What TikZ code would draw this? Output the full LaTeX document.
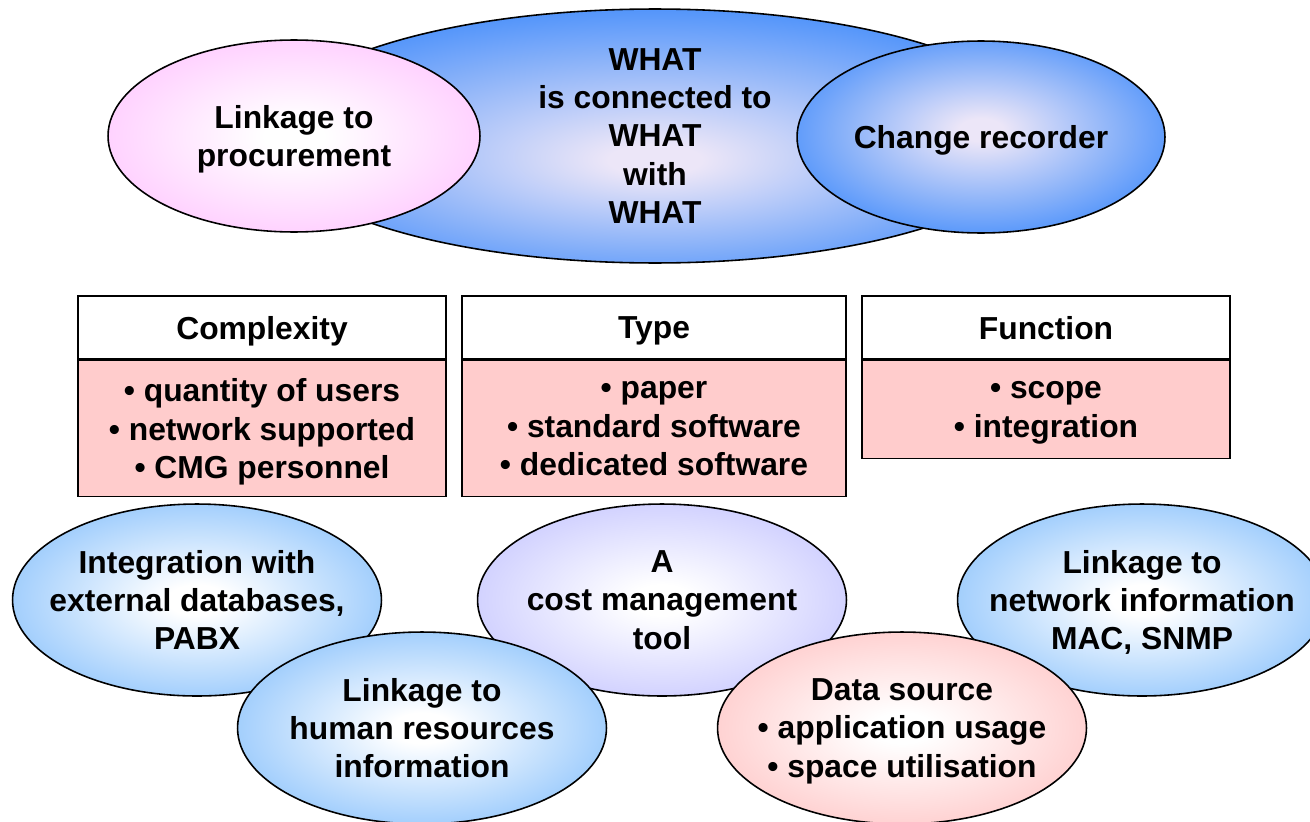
\documentclass[tikz,border=0pt]{standalone}
\usepackage{fontspec}
\setmainfont{Liberation Sans}
\usetikzlibrary{shapes.geometric}
\definecolor{deepblue}{RGB}{85,150,250}
\definecolor{paleblue}{RGB}{150,200,252}
\definecolor{lilac}{RGB}{204,204,255}
\definecolor{orchid}{RGB}{255,204,255}
\definecolor{rosy}{RGB}{255,204,204}
\definecolor{core}{RGB}{236,230,248}
\pgfdeclareradialshading{bigshade}{\pgfpoint{0bp}{-5bp}}{color(0bp)=(core); color(3bp)=(core); color(27bp)=(deepblue); color(50bp)=(deepblue)}
\pgfdeclareradialshading{blueshade}{\pgfpoint{0bp}{2bp}}{color(0bp)=(core); color(3bp)=(core); color(27bp)=(deepblue); color(50bp)=(deepblue)}
\pgfdeclareradialshading{paleshade}{\pgfpoint{0bp}{0bp}}{color(0bp)=(white); color(4bp)=(white); color(28bp)=(paleblue); color(50bp)=(paleblue)}
\pgfdeclareradialshading{lilacshade}{\pgfpoint{0bp}{0bp}}{color(0bp)=(white); color(4bp)=(white); color(28bp)=(lilac); color(50bp)=(lilac)}
\pgfdeclareradialshading{orchidshade}{\pgfpoint{0bp}{0bp}}{color(0bp)=(white); color(4bp)=(white); color(28bp)=(orchid); color(50bp)=(orchid)}
\pgfdeclareradialshading{rosyshade}{\pgfpoint{0bp}{0bp}}{color(0bp)=(white); color(4bp)=(white); color(28bp)=(rosy); color(50bp)=(rosy)}

\begin{document}
\begin{tikzpicture}[x=0.02cm, y=-0.02cm,
  txt/.style={font=\fontsize{18.1}{21.8}\selectfont\bfseries, align=center, text=black, text depth=0pt},
  oval/.style={txt, ellipse, draw=black, line width=0.9pt, inner xsep=-3cm, inner ysep=-1cm,
    minimum width=7.38cm, minimum height=3.84cm},
  head/.style={txt, rectangle, draw=black, line width=0.9pt, fill=white,
    minimum height=1.26cm, inner sep=0pt},
  body/.style={txt, rectangle, draw=black, line width=0.9pt, fill=rosy, inner sep=0pt}]
  \useasboundingbox (0,0) rectangle (1310,821);
  % top group
  \node[oval, shading=bigshade, minimum width=15.6cm, minimum height=5.08cm] (what) at (655,136)
    {WHAT\\is connected to\\WHAT\\with\\WHAT};
  \node[oval, shading=orchidshade, minimum width=7.44cm] (proc) at (294,136) {Linkage to\\procurement};
  \node[oval, shading=blueshade, minimum width=7.36cm] (change) at (981,137) {Change recorder};
  % three boxes
  \node[head, minimum width=7.36cm] (cplxH) at (262,327.5) {Complexity};
  \node[body, minimum width=7.36cm, minimum height=2.72cm, anchor=north] (cplxB) at (cplxH.south)
    {• quantity of users\\• network supported\\• CMG personnel};
  \node[head, minimum width=7.68cm] (typeH) at (654,327.5) {Type};
  \node[body, minimum width=7.68cm, minimum height=2.72cm, anchor=north, text depth=-3.4pt] (typeB) at (typeH.south)
    {• paper\\• standard software\\• dedicated software};
  \node[head, minimum width=7.36cm, text depth=-2.2pt] (funcH) at (1046,327.5) {Function};
  \node[body, minimum width=7.36cm, minimum height=1.96cm, anchor=north] (funcB) at (funcH.south)
    {• scope\\• integration};
  % bottom cluster
  \node[oval, shading=paleshade] (ext) at (197,600) {Integration with\\external databases,\\PABX};
  \node[oval, shading=lilacshade] (tool) at (662,600) {A\\cost management\\tool};
  \node[oval, shading=paleshade] (net) at (1142,600) {Linkage to\\network information\\MAC, SNMP};
  \node[oval, shading=paleshade] (hr) at (422,728) {Linkage to\\human resources\\information};
  \node[oval, shading=rosyshade] (data) at (902,728) {Data source\\• application usage\\• space utilisation};
\end{tikzpicture}
\end{document}
